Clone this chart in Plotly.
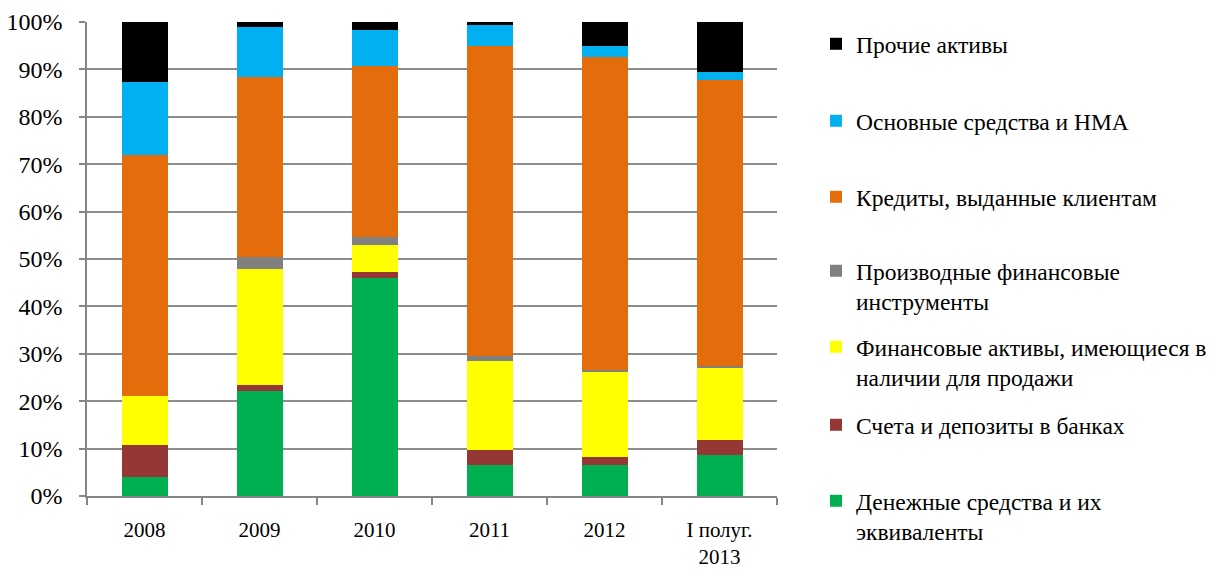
import plotly.graph_objects as go

categories = ["2008", "2009", "2010", "2011", "2012", "I полуг.<br>2013"]

series_names = [
    "Денежные средства и их<br>эквиваленты",
    "Счета и депозиты в банках",
    "Финансовые активы, имеющиеся в<br>наличии для продажи",
    "Производные финансовые<br>инструменты",
    "Кредиты, выданные клиентам",
    "Основные средства и НМА",
    "Прочие активы",
]

cash = [4.1, 22.2, 46.0, 6.6, 6.5, 8.7]
deposits = [6.7, 1.3, 1.3, 3.1, 1.7, 3.1]
afs = [10.3, 24.4, 5.7, 18.8, 18.0, 15.3]
derivatives = [0.0, 2.6, 1.6, 1.0, 0.4, 0.3]
loans = [50.9, 38.0, 36.2, 65.4, 66.1, 60.4]
fixed_assets = [15.4, 10.4, 7.5, 4.5, 2.2, 1.6]
other = [12.6, 1.1, 1.7, 0.6, 5.1, 10.6]

series_values = [cash, deposits, afs, derivatives, loans, fixed_assets, other]
colors = ["#00B050", "#953735", "#FFFF00", "#808080", "#E46C0A", "#00B0F0", "#000000"]

# legend top positions (pixels from top of figure), per series
legend_tops = [479, 403, 325, 249, 175, 99, 22]

W, H = 1216, 569
FONT = "Liberation Serif"
FS = 24
LEG_FS = 23.5

fig = go.Figure()
layout_legends = {}
for i, (name, vals, col) in enumerate(zip(series_names, series_values, colors)):
    key = "legend" if i == 0 else f"legend{i+1}"
    fig.add_trace(go.Bar(
        x=categories, y=vals, name=name,
        marker=dict(color=col, line=dict(width=0)),
        legend=key,
    ))
    layout_legends[key] = dict(
        x=816 / W, y=1 - legend_tops[i] / H,
        xref="container", yref="container",
        xanchor="left", yanchor="top",
        bgcolor="rgba(0,0,0,0)",
        font=dict(family=FONT, size=LEG_FS, color="black"),
        valign="top",
        itemwidth=30,
    )

fig.update_layout(
    barmode="stack",
    bargap=0.6,
    width=W, height=H,
    margin=dict(l=87, r=439, t=22, b=73, autoexpand=False),
    paper_bgcolor="white",
    plot_bgcolor="white",
    font=dict(family=FONT, size=FS, color="black"),
    showlegend=True,
    **layout_legends,
)

fig.update_xaxes(
    type="category",
    showline=True, linecolor="#868686", linewidth=1.5,
    ticks="outside", tickson="boundaries", ticklen=7, tickcolor="#868686", tickwidth=1.5,
    showgrid=False,
    ticklabelstandoff=14,
    automargin=False,
    tickfont=dict(family=FONT, size=21, color="black"),
)
fig.update_yaxes(
    range=[0, 100], dtick=10, ticksuffix="%",
    showline=True, linecolor="#868686", linewidth=1.5,
    ticks="outside", ticklen=6, tickcolor="#868686", tickwidth=1.5,
    showgrid=True, gridcolor="#8c8c8c", gridwidth=1.5,
    zeroline=False,
    ticklabelstandoff=12,
    automargin=False,
    tickfont=dict(family=FONT, size=FS, color="black"),
)

fig.write_html(
    "out.html",
    config={"displayModeBar": False},
    post_script="document.body.style.margin='0';document.body.style.overflow='hidden';",
)
